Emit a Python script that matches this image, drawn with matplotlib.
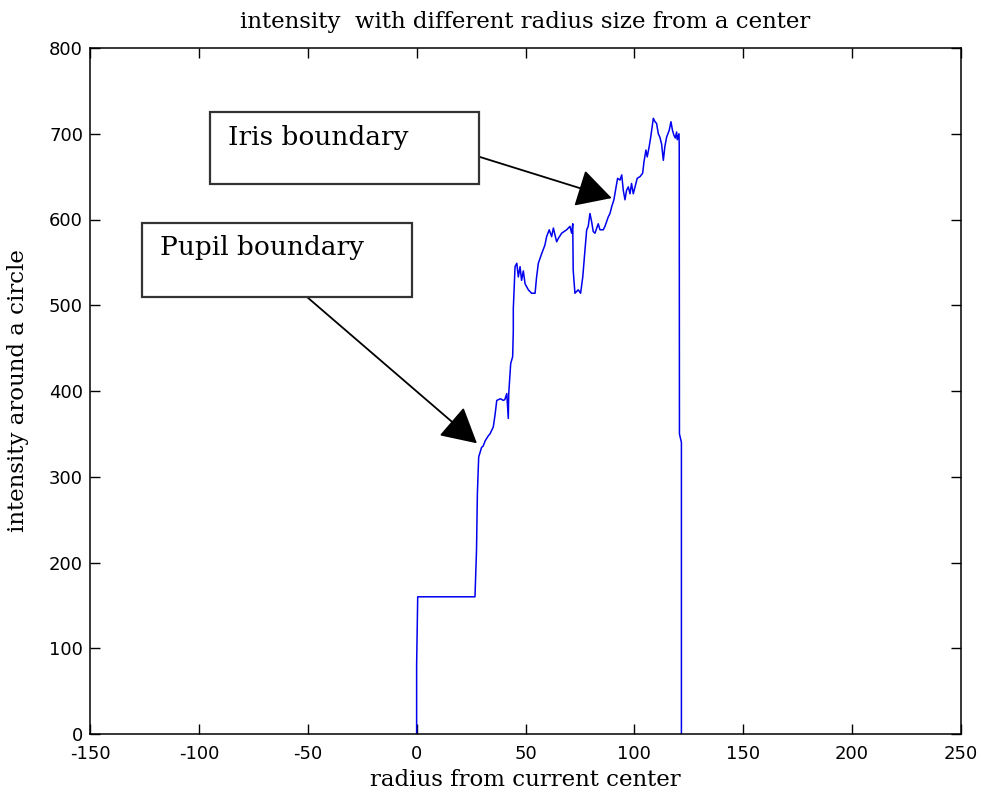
import numpy as np
import matplotlib
matplotlib.use("Agg")
import matplotlib.pyplot as plt
from matplotlib.patches import Rectangle

plt.rcParams['axes.unicode_minus'] = False

# values
radius = [0, 0, 0.5, 26.8, 27.5, 27.9, 28.5, 29.8, 30.6, 31.5, 33.0, 33.7, 35.2,
          36.0, 36.8, 38.5, 39.8, 40.5, 41.4, 42.1, 42.3, 43.2, 44.1, 44.4, 44.4,
          45.2, 46.0, 46.7, 47.5, 48.2, 49.0, 49.8, 51.3, 52.8, 54.4, 55.1, 55.9,
          57.4, 58.9, 59.7, 60.9, 62.0, 62.8, 64.3, 65.1, 66.6, 68.9, 70.4, 71.2,
          71.7, 71.9, 72.7, 74.2, 75.3, 76.3, 77.3, 78.1, 78.8, 79.6, 80.4, 81.1,
          81.9, 83.4, 84.2, 85.7, 86.5, 88.0, 88.8, 89.6, 90.6, 91.6, 92.3, 93.4,
          94.2, 94.9, 95.7, 96.4, 97.2, 98.0, 98.7, 99.5, 100.3, 101.3, 102.6,
          103.8, 104.4, 105.3, 105.9, 106.8, 107.5, 108.7, 109.5, 110.2, 111.0,
          111.7, 112.5, 113.3, 114.0, 114.8, 116.0, 116.8, 117.5, 118.2, 118.8,
          119.4, 119.7, 120.5, 120.6, 120.7, 121.6, 121.6]
intensity = [0, 80, 160, 160, 214, 280, 323, 334, 336, 342, 348, 350, 358,
             372, 389, 391, 389, 390, 397, 368, 397, 432, 440, 470, 496,
             545, 549, 533, 545, 529, 540, 525, 518, 514, 514, 533, 549,
             560, 570, 580, 588, 580, 590, 574, 578, 584, 588, 592, 584,
             595, 541, 514, 518, 514, 533, 564, 588, 592, 607, 597, 586,
             584, 595, 588, 588, 592, 603, 607, 615, 623, 638, 648, 646,
             652, 634, 623, 634, 638, 630, 642, 630, 638, 648, 650,
             654, 667, 681, 673, 685, 696, 718, 714, 712, 700,
             696, 688, 669, 685, 696, 704, 714, 704, 698, 695,
             702, 693, 700, 685, 350, 340, 0]

xticks = [-150, -100, -50, 0, 50, 100, 150, 200, 250]
yticks = [0, 100, 200, 300, 400, 500, 600, 700, 800]

W, H = 981, 793
fig = plt.figure(figsize=(W / 100, H / 100), dpi=100)
ax = fig.add_axes([90 / W, 59 / H, 871 / W, 686 / H])

ax.plot(radius, intensity, color='#0000ee', lw=1.1)

ax.set_xlim(-150, 250)
ax.set_ylim(0, 800)
ax.set_xticks(xticks)
ax.set_yticks(yticks)
ax.tick_params(direction='in', length=7, width=1, top=True, right=True,
               labelsize=13)
ax.tick_params(axis='x', pad=8)
ax.tick_params(axis='y', pad=5)
for lab in ax.get_xticklabels() + ax.get_yticklabels():
    lab.set_family('DejaVu Sans')
for s in ax.spines.values():
    s.set_linewidth(1.1)

serif = 'DejaVu Serif'
fig.text(525 / W, 1 - 22 / H, 'intensity  with different radius size from a center',
         ha='center', va='center', family=serif, fontsize=16.5)
ax.set_xlabel('radius from current center', family=serif, fontsize=16.5, va='center')
ax.xaxis.set_label_coords(0.5, (734 - 780) / 686)
ax.set_ylabel('intensity around a circle', family=serif, fontsize=16.5, va='center')
ax.yaxis.set_label_coords((18 - 90) / 871, 0.5)

# annotation boxes (figure pixels, top-left origin)
boxes = [
    ('Iris boundary', 210, 112, 269, 72, (89.6, 625), (480, 157)),
    ('Pupil boundary', 142, 223, 270, 74, (27.7, 339), (307, 297)),
]
for label, bx, by, bw, bh, tip, start in boxes:
    fig.add_artist(Rectangle((bx / W, 1 - (by + bh) / H), bw / W, bh / H,
                             transform=fig.transFigure, facecolor='white',
                             edgecolor='#333333', lw=1.6, zorder=3))
    fig.text((bx + 18) / W, 1 - (by + 25) / H, label, family=serif,
             fontsize=19, ha='left', va='center', zorder=4)
    ax.annotate('', xy=tip, xycoords='data',
                xytext=(start[0], H - start[1]), textcoords='figure pixels',
                arrowprops=dict(arrowstyle='-|>,head_length=0.55,head_width=0.3',
                                mutation_scale=40, color='black', lw=1.3,
                                shrinkA=0, shrinkB=0))

fig.savefig('out.png', dpi=100)
